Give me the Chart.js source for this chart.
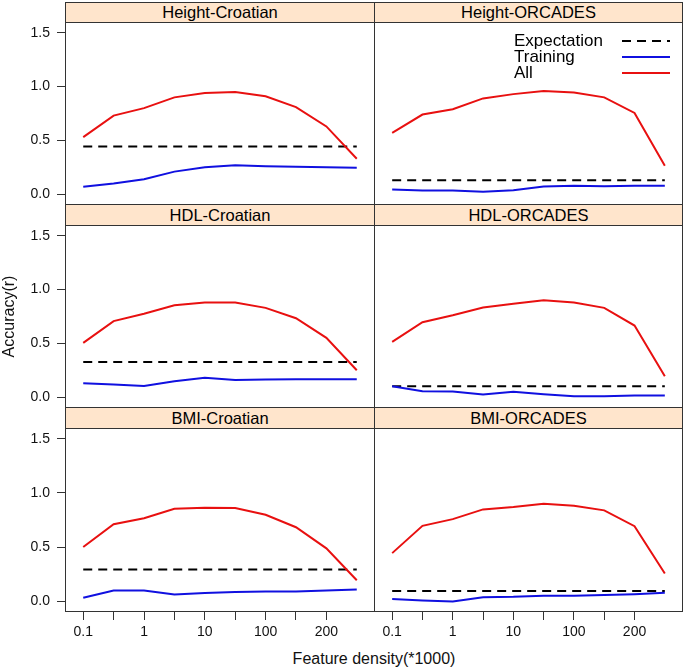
<!DOCTYPE html>
<html>
<head>
<meta charset="utf-8">
<script src="https://cdn.jsdelivr.net/npm/chart.js@4.4.1/dist/chart.umd.min.js"></script>
<style>
  body { margin: 0; background: #fff; }
  #wrap { position: relative; width: 685px; height: 671px; font-family: "Liberation Sans", Arial, sans-serif; }
  #wrap canvas { position: absolute; }
  .strip {
    position: absolute; box-sizing: border-box; background: #ffe5cc; border: 1px solid #333;
    text-align: center; font-size: 16.5px; color: #000;
  }
  #xtitle { position: absolute; left: 274px; width: 200px; top: 650px; text-align: center; font-size: 16px; color: #111; }
</style>
</head>
<body>
<div id="wrap"></div>
<script>
// x positions of the 10 feature-density steps, tick labels on every other one
const xPoints = [1, 2, 3, 4, 5, 6, 7, 8, 9, 10];
const xTickPos = [1, 2, 3, 4, 5, 6, 7, 8, 9];
const xTickLabels = ['0.1', '', '1', '', '10', '', '100', '', '200'];
const yTicks = [0, 0.5, 1.0, 1.5];

const panelNames = ['Height-Croatian', 'Height-ORCADES', 'HDL-Croatian', 'HDL-ORCADES', 'BMI-Croatian', 'BMI-ORCADES'];
const expectation = [0.444, 0.130, 0.328, 0.102, 0.292, 0.093];

const heightCroatianAll = [0.53, 0.73, 0.80, 0.90, 0.94, 0.95, 0.91, 0.81, 0.63, 0.33];
const heightCroatianTraining = [0.07, 0.10, 0.14, 0.21, 0.25, 0.27, 0.26, 0.255, 0.25, 0.245];
const heightOrcadesAll = [0.57, 0.74, 0.79, 0.89, 0.93, 0.96, 0.945, 0.90, 0.755, 0.265];
const heightOrcadesTraining = [0.043, 0.035, 0.035, 0.022, 0.037, 0.071, 0.078, 0.075, 0.078, 0.078];
const hdlCroatianAll = [0.505, 0.707, 0.775, 0.855, 0.88, 0.88, 0.83, 0.734, 0.552, 0.251];
const hdlCroatianTraining = [0.13, 0.118, 0.105, 0.149, 0.18, 0.161, 0.164, 0.167, 0.167, 0.167];
const hdlOrcadesAll = [0.514, 0.697, 0.762, 0.834, 0.868, 0.902, 0.88, 0.83, 0.666, 0.195];
const hdlOrcadesTraining = [0.102, 0.056, 0.053, 0.025, 0.05, 0.028, 0.009, 0.009, 0.015, 0.015];
const bmiCroatianAll = [0.5, 0.711, 0.767, 0.854, 0.863, 0.86, 0.798, 0.683, 0.488, 0.193];
const bmiCroatianTraining = [0.031, 0.099, 0.099, 0.062, 0.075, 0.084, 0.09, 0.09, 0.099, 0.109];
const bmiOrcadesAll = [0.444, 0.696, 0.758, 0.848, 0.87, 0.901, 0.882, 0.839, 0.693, 0.255];
const bmiOrcadesTraining = [0.019, 0.006, -0.003, 0.037, 0.04, 0.05, 0.05, 0.056, 0.065, 0.078];

const allSeries = [heightCroatianAll, heightOrcadesAll, hdlCroatianAll, hdlOrcadesAll, bmiCroatianAll, bmiOrcadesAll];
const trainingSeries = [heightCroatianTraining, heightOrcadesTraining, hdlCroatianTraining, hdlOrcadesTraining, bmiCroatianTraining, bmiOrcadesTraining];

Chart.defaults.font.family = '"Liberation Sans", Arial, sans-serif';
Chart.defaults.color = '#111';

const FRAME = '#333';
const toXY = (arr) => arr.map((v, i) => ({ x: xPoints[i], y: v }));

// keep every panel's plot box at a fixed place: no auto padding from tick labels
const noPad = (scale) => {
    scale.paddingTop = 0;
    scale.paddingBottom = 0;
    scale.paddingLeft = 0;
    scale.paddingRight = 0;
};

// panel box around the plotting area
const framePlugin = {
    id: 'panelFrame',
    afterDraw(chart) {
        const a = chart.chartArea;
        const ctx = chart.ctx;
        ctx.save();
        ctx.strokeStyle = FRAME;
        ctx.lineWidth = 1;
        ctx.strokeRect(a.left + 0.5, a.top + 0.5, a.right - a.left - 1, a.bottom - a.top - 1);
        ctx.restore();
    }
};

// lattice-style key: text on the left, line sample on the right
const keyPlugin = {
    id: 'cornerKey',
    afterDatasetsDraw(chart, args, opts) {
        if (!opts.show) return;
        const ctx = chart.ctx;
        ctx.save();
        ctx.font = '17px "Liberation Sans", Arial, sans-serif';
        ctx.textBaseline = 'middle';
        chart.data.datasets.forEach((ds, i) => {
            const y = opts.y + i * opts.rowHeight;
            ctx.fillStyle = '#000';
            ctx.fillText(ds.label, opts.x, y);
            ctx.strokeStyle = ds.borderColor;
            ctx.lineWidth = ds.borderWidth;
            ctx.setLineDash(ds.borderDash || []);
            ctx.beginPath();
            ctx.moveTo(opts.lineFrom, y);
            ctx.lineTo(opts.lineTo, y);
            ctx.stroke();
        });
        ctx.restore();
    }
};

const wrap = document.getElementById('wrap');
const colLeft = [0, 374];
const colWidth = [375, 309];
const plotLeft = [65, 374];
const plotWidth = [310, 309];
const rowTop = [22, 225, 428];
const rowHeight = [183, 183, 184];
const stripTop = [2, 204, 407];
const stripHeight = [21, 22, 22];

panelNames.forEach((name, p) => {
    const col = p % 2;
    const row = Math.floor(p / 2);
    const bottomRow = row === 2;
    const leftCol = col === 0;

    const strip = document.createElement('div');
    strip.className = 'strip';
    strip.textContent = name;
    strip.style.left = plotLeft[col] + 'px';
    strip.style.width = plotWidth[col] + 'px';
    strip.style.top = stripTop[row] + 'px';
    strip.style.height = stripHeight[row] + 'px';
    strip.style.lineHeight = (stripHeight[row] - 2) + 'px';
    wrap.appendChild(strip);

    const canvas = document.createElement('canvas');
    const h = rowHeight[row] + (bottomRow ? 30 : 0);
    canvas.width = colWidth[col];
    canvas.height = h;
    canvas.style.left = colLeft[col] + 'px';
    canvas.style.top = rowTop[row] + 'px';
    canvas.style.width = colWidth[col] + 'px';
    canvas.style.height = h + 'px';
    wrap.appendChild(canvas);

    new Chart(canvas, {
        type: 'line',
        data: {
            datasets: [
                {
                    label: 'Expectation',
                    data: [{ x: xPoints[0], y: expectation[p] }, { x: xPoints[xPoints.length - 1], y: expectation[p] }],
                    borderColor: '#000',
                    borderWidth: 2,
                    borderDash: [9, 6],
                    pointRadius: 0,
                    order: 3,
                },
                {
                    label: 'Training',
                    data: toXY(trainingSeries[p]),
                    borderColor: '#1010e0',
                    borderWidth: 2,
                    pointRadius: 0,
                    order: 2,
                },
                {
                    label: 'All',
                    data: toXY(allSeries[p]),
                    borderColor: '#e81010',
                    borderWidth: 2,
                    pointRadius: 0,
                    order: 1,
                },
            ]
        },
        options: {
            responsive: false,
            animation: false,
            events: [],
            layout: { padding: 0 },
            plugins: {
                legend: { display: false },
                tooltip: { enabled: false },
                cornerKey: { show: p === 1, x: 140, y: 19, rowHeight: 16, lineFrom: 248, lineTo: 296 },
            },
            scales: {
                x: {
                    type: 'linear',
                    min: 0.4,
                    max: 10.6,
                    display: bottomRow,
                    afterBuildTicks: (scale) => { scale.ticks = xTickPos.map(v => ({ value: v })); },
                    afterFit: (scale) => { scale.height = bottomRow ? 30 : 0; noPad(scale); },
                    border: { display: false },
                    grid: { drawOnChartArea: false, drawTicks: true, tickLength: 8, color: FRAME },
                    ticks: {
                        padding: 4,
                        maxRotation: 0,
                        autoSkip: false,
                        font: { size: 14 },
                        callback: (v) => xTickLabels[xTickPos.indexOf(v)],
                    },
                },
                y: {
                    min: -0.1,
                    max: 1.6,
                    display: leftCol,
                    afterBuildTicks: (scale) => { scale.ticks = yTicks.map(v => ({ value: v })); },
                    afterFit: (scale) => { scale.width = leftCol ? 65 : 0; noPad(scale); },
                    border: { display: false },
                    grid: { drawOnChartArea: false, drawTicks: true, tickLength: 8, color: FRAME },
                    title: {
                        display: p === 2,
                        text: 'Accuracy(r)',
                        font: { size: 16 },
                        padding: { top: 0, bottom: 0 },
                    },
                    ticks: {
                        padding: 7,
                        font: { size: 14 },
                        callback: (v) => v.toFixed(1),
                    },
                },
            },
        },
        plugins: [framePlugin, keyPlugin],
    });
});

const xt = document.createElement('div');
xt.id = 'xtitle';
xt.textContent = 'Feature density(*1000)';
wrap.appendChild(xt);
</script>
</body>
</html>
